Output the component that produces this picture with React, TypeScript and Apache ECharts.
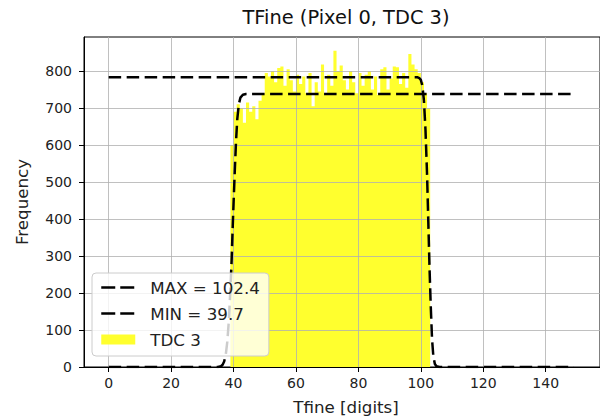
import React, { useEffect, useRef } from "react";
import * as echarts from "echarts";

const chartTitle = "TFine (Pixel 0, TDC 3)";
const xAxisLabel = "Tfine [digits]";
const yAxisLabel = "Frequency";
const legendNames = ["MAX = 102.4", "MIN = 39.7", "TDC 3"];

const xTicks = [0, 20, 40, 60, 80, 100, 120, 140];
const yTicks = [0, 100, 200, 300, 400, 500, 600, 700, 800];

// histogram: left edge of each 1-digit bin and its count
const histBins = [
  39, 40, 41, 42, 43, 44, 45, 46, 47, 48, 49, 50, 51, 52, 53, 54, 55, 56, 57, 58, 59,
  60, 61, 62, 63, 64, 65, 66, 67, 68, 69, 70, 71, 72, 73, 74, 75, 76, 77, 78, 79,
  80, 81, 82, 83, 84, 85, 86, 87, 88, 89, 90, 91, 92, 93, 94, 95, 96, 97, 98, 99,
  100, 101, 102,
];
const histCounts = [
  600, 690, 710, 700, 660, 715, 690, 705, 670, 720, 740, 795, 785, 800, 770, 808, 812, 760, 805, 775, 745,
  790, 765, 785, 740, 795, 705, 770, 745, 818, 735, 790, 760, 855, 800, 815, 775, 750, 800, 770, 740,
  795, 760, 790, 800, 750, 785, 735, 805, 810, 750, 780, 812, 810, 765, 795, 755, 846, 818, 805, 795,
  770, 740, 700,
];
const histLastEdge = 103;

// fitted falling edge (MAX)
const maxCurveX = [0, 99, 99.5, 100, 100.5, 101, 101.5, 102, 102.4, 102.8, 103.2, 103.6, 104, 104.5, 105, 106, 149];
const maxCurveY = [783, 783, 781, 776, 760, 720, 640, 520, 392, 265, 160, 75, 30, 8, 2, 0, 0];

// fitted rising edge (MIN)
const minCurveX = [0, 35, 36, 36.5, 37, 37.5, 38, 38.5, 39, 39.4, 39.7, 40, 40.4, 40.8, 41.2, 41.7, 42.2, 43, 44, 149];
const minCurveY = [0, 0, 2, 6, 15, 32, 68, 125, 210, 290, 369, 440, 530, 610, 670, 710, 728, 736, 738, 738];

const FONT = "DejaVu Sans";

export default function App() {
  const ref = useRef<HTMLDivElement>(null);

  useEffect(() => {
    if (!ref.current) return;
    const chart = echarts.init(ref.current, undefined, { renderer: "svg" });

    const histData: number[][] = histBins.map((b, i) => [b, histCounts[i]]);
    histData.push([histLastEdge, 0]);
    const maxData = maxCurveX.map((x, i) => [x, maxCurveY[i]]);
    const minData = minCurveX.map((x, i) => [x, minCurveY[i]]);

    const dash = [12.5, 5.5];
    const dashIconStyle = {
      color: "transparent",
      borderColor: "#000",
      borderWidth: 2.5,
      borderType: [14, 5],
    };

    chart.setOption({
      animation: false,
      grid: {
        left: 84,
        right: -8,
        top: 37,
        bottom: 52,
        show: true,
        borderColor: "#000",
        borderWidth: 1,
        backgroundColor: "transparent",
      },
      xAxis: {
        type: "value",
        min: -7.9,
        max: 157.4,
        z: 3,
        axisLine: { show: true, onZero: false, lineStyle: { color: "#000", width: 1 } },
        axisTick: {
          show: true,
          customValues: xTicks,
          inside: false,
          length: 5,
          lineStyle: { color: "#000", width: 1 },
        },
        axisLabel: {
          customValues: xTicks,
          margin: 9,
          fontFamily: FONT,
          fontSize: 14,
          color: "#222",
        },
        splitLine: { show: true, lineStyle: { color: "#b0b0b0", width: 0.8 } },
      },
      yAxis: {
        type: "value",
        min: 0,
        max: 892,
        z: 3,
        axisLine: { show: true, onZero: false, lineStyle: { color: "#000", width: 1 } },
        axisTick: {
          show: true,
          customValues: yTicks,
          length: 5,
          lineStyle: { color: "#000", width: 1 },
        },
        axisLabel: {
          customValues: yTicks,
          margin: 12,
          fontFamily: FONT,
          fontSize: 14,
          color: "#222",
        },
        splitLine: { show: true, lineStyle: { color: "#b0b0b0", width: 0.8 } },
      },
      legend: {
        left: 92,
        top: 273,
        orient: "vertical",
        selectedMode: false,
        z: 10,
        data: [
          { name: legendNames[0], icon: "line", itemStyle: dashIconStyle },
          { name: legendNames[1], icon: "line", itemStyle: dashIconStyle },
          { name: legendNames[2], icon: "rect" },
        ],
        itemWidth: 34,
        itemHeight: 10,
        itemGap: 7,
        padding: [5, 9, 7, 8],
        backgroundColor: "rgba(255,255,255,0.8)",
        borderColor: "#cccccc",
        borderWidth: 1,
        borderRadius: 4,
        textStyle: {
          fontFamily: FONT,
          fontSize: 16.7,
          color: "#222",
          lineHeight: 19,
          padding: [0, 0, 0, 10],
        },
      },
      series: [
        {
          name: legendNames[2],
          type: "line",
          step: "end",
          data: histData,
          symbol: "none",
          z: 1,
          color: "#ffff2e",
          itemStyle: { color: "#ffff2e" },
          lineStyle: { width: 0, color: "#ffff2e" },
          areaStyle: { color: "#ffff2e", opacity: 1 },
        },
        {
          name: legendNames[0],
          type: "line",
          data: maxData,
          symbol: "none",
          z: 5,
          color: "#000",
          lineStyle: { color: "#000", width: 2.5, type: dash, cap: "butt" },
        },
        {
          name: legendNames[1],
          type: "line",
          data: minData,
          symbol: "none",
          z: 5,
          color: "#000",
          lineStyle: { color: "#000", width: 2.5, type: dash, cap: "butt" },
        },
      ],
      graphic: [
        {
          type: "text",
          x: 346,
          y: 17,
          style: {
            text: chartTitle,
            fontFamily: FONT,
            fontSize: 19.4,
            fill: "#111",
            align: "center",
            verticalAlign: "middle",
          },
        },
        {
          type: "text",
          x: 346,
          y: 407,
          style: {
            text: xAxisLabel,
            fontFamily: FONT,
            fontSize: 16.7,
            fill: "#222",
            align: "center",
            verticalAlign: "middle",
          },
        },
        {
          type: "text",
          x: 22,
          y: 202,
          rotation: Math.PI / 2,
          style: {
            text: yAxisLabel,
            fontFamily: FONT,
            fontSize: 16.7,
            fill: "#222",
            align: "center",
            verticalAlign: "middle",
          },
        },
      ],
    });

    return () => chart.dispose();
  }, []);

  return (
    <div
      ref={ref}
      style={{ position: "fixed", left: 0, top: 0, width: 600, height: 419, background: "#fff" }}
    />
  );
}
